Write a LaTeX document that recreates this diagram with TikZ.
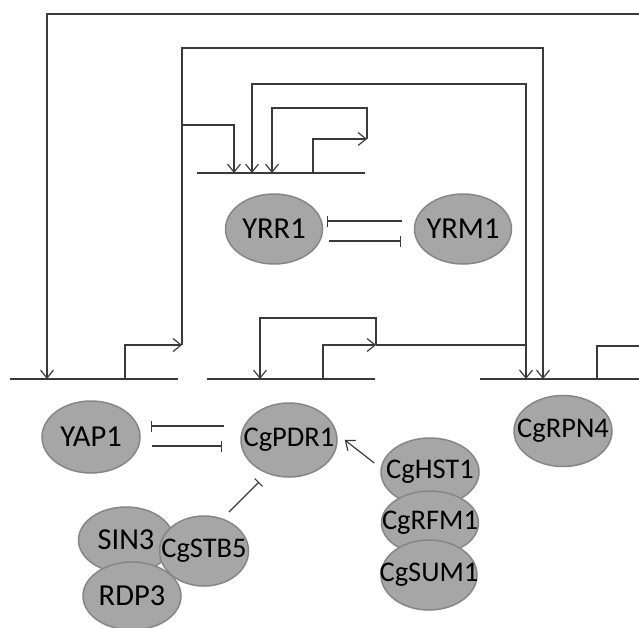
\documentclass[tikz,border=0pt]{standalone}
\usepackage{fontspec}
\setmainfont{Carlito}
\usepackage{xcolor}
\usepackage{tikz}
\usetikzlibrary{shapes.geometric, arrows.meta}
\definecolor{genefill}{HTML}{A6A6A6}
\definecolor{genedraw}{HTML}{868686}
\definecolor{wire}{HTML}{3A3A3A}
\tikzset{
  gene/.style={
    ellipse, inner xsep=-16pt, inner ysep=-10pt,
    fill=genefill, draw=genedraw, line width=1.5pt,
    minimum width=97pt, minimum height=70pt,
    font=\fontsize{30.5}{32}\selectfont, text=black
  },
  cggene/.style={gene, font=\fontsize{28.5}{32}\selectfont},
  dna/.style={draw=wire, line width=1.8pt},
  wirepath/.style={draw=wire, line width=1.2pt},
  act/.style={wirepath, -{Straight Barb[length=8pt, width=13pt, line width=1.2pt]}},
  inh/.style={wirepath, -{Bar[width=11pt, line width=1.2pt]}}
}

\begin{document}
\begin{tikzpicture}[x=1pt, y=-1pt]
  \useasboundingbox (0,0) rectangle (639,627);

  % promoter lines
  \coordinate (yrrL) at (197,173); \coordinate (yrrR) at (365,173);
  \coordinate (yapL) at (10,379);  \coordinate (yapR) at (178,379);
  \coordinate (pdrL) at (207,379); \coordinate (pdrR) at (375,379);
  \coordinate (rpnL) at (480,379); \coordinate (rpnR) at (639,379);
  \draw[dna] (yrrL) -- (yrrR);
  \draw[dna] (yapL) -- (yapR);
  \draw[dna] (pdrL) -- (pdrR);
  \draw[dna] (rpnL) -- (rpnR);

  % transcription start sites
  \coordinate (yrrTSS) at (313,173); \coordinate (yrrOut) at (367,139);
  \coordinate (yapTSS) at (125,379); \coordinate (yapOut) at (182,345);
  \coordinate (pdrTSS) at (323,379); \coordinate (pdrOut) at (376,345);
  \coordinate (rpnTSS) at (597,379); \coordinate (rpnOut) at (639,346);

  % YRR1 self loop
  \draw[act] (yrrTSS) |- (yrrOut);
  \draw[act] (yrrOut) -- (367,108) -| (272,173);

  % YAP1 targets
  \draw[act] (yapTSS) |- (yapOut);
  \draw[act] (yapOut) -- (182,48) -| (543,379);
  \draw[act] (182,125) -| (234,173);

  % CgPDR1 targets
  \draw[act] (pdrTSS) |- (pdrOut);
  \draw[wirepath] (pdrOut) -- (526,345);
  \draw[act] (pdrOut) -- (376,318) -| (260,379);
  \draw[act] (526,345) -- (526,379);
  \draw[act] (526,345) -- (526,84) -| (252,173);

  % CgRPN4 target
  \draw[wirepath] (rpnTSS) |- (rpnOut);
  \draw[act] (639,14) -| (47,379);

  % proteins
  \node[gene] (yrr) at (274,229) {YRR1};
  \node[gene] (yrm) at (463,229) {YRM1};
  \node[gene, minimum width=98pt, minimum height=72pt] (yap) at (91,437) {YAP1};
  \node[cggene, minimum width=96pt, minimum height=74pt] (pdr) at (289,440) {CgPDR1};
  \node[cggene, minimum width=98pt, minimum height=71pt] (rpn) at (563,431) {CgRPN4};

  \node[gene, minimum width=95pt, minimum height=66pt] (sin) at (126,540) {SIN3};
  \node[gene, minimum width=98pt, minimum height=68pt] (rdp) at (132,596) {RDP3};
  \node[cggene, minimum width=89pt, minimum height=70pt] (stb) at (204,551) {CgSTB5};

  \node[cggene, minimum width=98pt, minimum height=68pt] (hst) at (430,472) {CgHST1};
  \node[cggene, minimum width=97pt, minimum height=64pt] (rfm) at (430,523) {CgRFM1};
  \node[cggene, minimum width=96pt, minimum height=70pt] (sum) at (429,575) {CgSUM1};

  % interactions
  \draw[inh] ([shift={(-12,-8)}]yrm.west) -- ([shift={(4,-8)}]yrr.east);
  \draw[inh] ([shift={(6,12)}]yrr.east) -- ([shift={(-13,12)}]yrm.west);
  \draw[inh] ([shift={(-16,-14)}]pdr.west) -- ([shift={(10,-11)}]yap.east);
  \draw[inh] ([shift={(11,9)}]yap.east) -- ([shift={(-18,6)}]pdr.west);
  \draw[inh] ([shift={(25,-39)}]stb.center) -- ([shift={(-30,42)}]pdr.center);
  \draw[act] ([shift={(-6,-9)}]hst.west) -- ([shift={(7,0)}]pdr.east);

\end{tikzpicture}
\end{document}
